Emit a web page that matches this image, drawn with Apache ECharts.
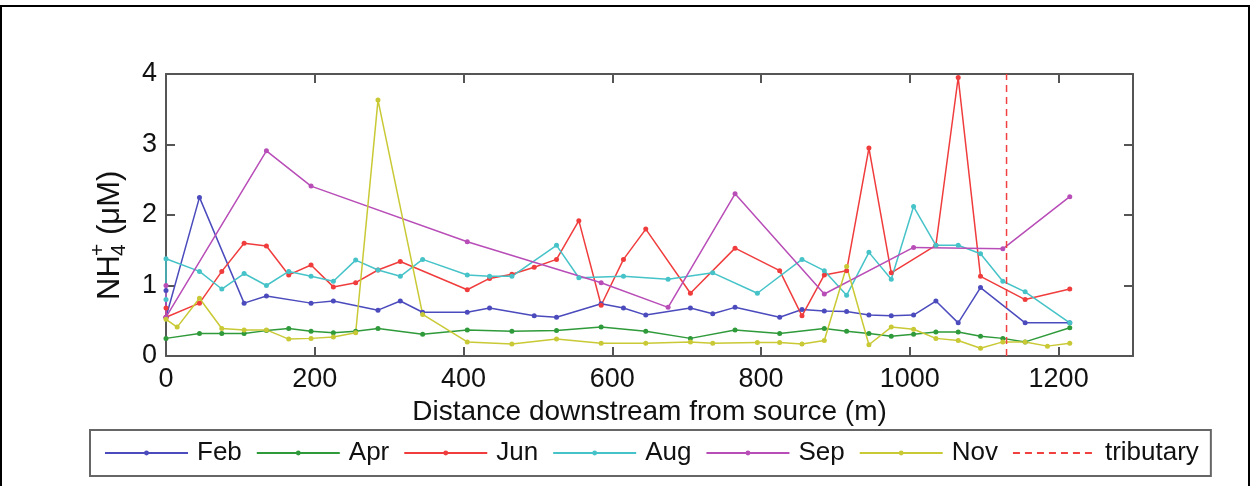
<!DOCTYPE html>
<html>
  <head>
    <meta charset="utf-8" />
    <title>NH4+ downstream</title>
    <script src="https://cdn.jsdelivr.net/npm/echarts@6/dist/echarts.min.js"></script>
    <style type="text/css">
      * {
        margin: 0px;
        padding: 0px;
      }
      body {
        background-color: #fff;
      }
    </style>
  </head>
  <body>
    <div id="main" style="width: 1252px; height: 486px"></div>
  </body>
</html>
<script>
  // distance (m) and NH4+ (uM) for each month
  const febX = [0, 0, 45, 105, 135, 195, 225, 285, 315, 345, 405, 435, 495, 525, 585, 615, 645, 705, 735, 765, 825, 855, 885, 915, 945, 975, 1005, 1035, 1065, 1095, 1155, 1215];
  const febY = [0.93, 0.55, 2.25, 0.75, 0.85, 0.75, 0.78, 0.65, 0.78, 0.62, 0.62, 0.68, 0.57, 0.55, 0.74, 0.68, 0.58, 0.68, 0.6, 0.69, 0.55, 0.66, 0.64, 0.63, 0.58, 0.57, 0.58, 0.78, 0.47, 0.97, 0.47, 0.47];

  const aprX = [0, 45, 75, 105, 135, 165, 195, 225, 255, 285, 345, 405, 465, 525, 585, 645, 705, 765, 825, 885, 915, 945, 975, 1005, 1035, 1065, 1095, 1125, 1155, 1215];
  const aprY = [0.25, 0.32, 0.32, 0.32, 0.36, 0.39, 0.35, 0.33, 0.35, 0.39, 0.31, 0.37, 0.35, 0.36, 0.41, 0.35, 0.25, 0.37, 0.32, 0.39, 0.35, 0.32, 0.28, 0.31, 0.34, 0.34, 0.28, 0.25, 0.2, 0.4];

  const junX = [0, 0, 45, 75, 105, 135, 165, 195, 225, 255, 285, 315, 405, 435, 465, 495, 525, 555, 585, 615, 645, 705, 765, 825, 855, 885, 915, 945, 975, 1035, 1065, 1095, 1155, 1215];
  const junY = [0.68, 0.55, 0.75, 1.2, 1.6, 1.56, 1.15, 1.29, 0.98, 1.04, 1.22, 1.34, 0.94, 1.1, 1.16, 1.26, 1.37, 1.92, 0.72, 1.37, 1.8, 0.89, 1.53, 1.21, 0.57, 1.15, 1.21, 2.95, 1.18, 1.57, 3.95, 1.13, 0.8, 0.95];

  const augX = [0, 0, 45, 75, 105, 135, 165, 195, 225, 255, 285, 315, 345, 405, 435, 465, 525, 555, 615, 675, 735, 795, 855, 885, 915, 945, 975, 1005, 1035, 1065, 1095, 1125, 1155, 1215];
  const augY = [0.8, 1.38, 1.2, 0.95, 1.17, 1.0, 1.2, 1.13, 1.06, 1.36, 1.22, 1.13, 1.37, 1.15, 1.13, 1.13, 1.57, 1.11, 1.13, 1.09, 1.18, 0.89, 1.37, 1.21, 0.86, 1.47, 1.09, 2.12, 1.57, 1.57, 1.45, 1.06, 0.91, 0.47];

  const sepX = [0, 0, 135, 195, 405, 585, 675, 765, 885, 1005, 1125, 1215];
  const sepY = [1.0, 0.55, 2.91, 2.41, 1.62, 1.04, 0.69, 2.3, 0.88, 1.54, 1.52, 2.26];

  const novX = [0, 15, 45, 75, 105, 135, 165, 195, 225, 255, 285, 345, 405, 465, 525, 585, 645, 705, 735, 795, 825, 855, 885, 915, 945, 975, 1005, 1035, 1065, 1095, 1125, 1155, 1185, 1215];
  const novY = [0.52, 0.41, 0.82, 0.39, 0.37, 0.37, 0.24, 0.25, 0.27, 0.33, 3.63, 0.59, 0.2, 0.17, 0.24, 0.18, 0.18, 0.2, 0.18, 0.19, 0.19, 0.17, 0.22, 1.27, 0.16, 0.41, 0.38, 0.25, 0.22, 0.11, 0.2, 0.2, 0.14, 0.18];

  const tributaryX = 1130;
  const yRange = [0, 4];
  const xTicks = [0, 200, 400, 600, 800, 1000, 1200];

  const months = ["Feb", "Apr", "Jun", "Aug", "Sep", "Nov"];
  const colors = ["#4b4bbd", "#2f9a3a", "#f03c3c", "#45c3c8", "#b84db8", "#c9c935"];
  const allX = [febX, aprX, junX, augX, sepX, novX];
  const allY = [febY, aprY, junY, augY, sepY, novY];

  const font = "Liberation Sans, Arial, sans-serif";

  let myChart = echarts.init(document.getElementById("main"));

  let series = [];
  for (let i = 0; i < months.length; i++) {
    let pts = [];
    for (let j = 0; j < allX[i].length; j++) {
      pts.push([allX[i][j], allY[i][j]]);
    }
    series.push({
      name: months[i],
      type: "line",
      data: pts,
      symbol: "circle",
      symbolSize: 5,
      color: colors[i],
      lineStyle: { width: 1.5, color: colors[i] },
      itemStyle: { color: colors[i] },
      animation: false,
    });
  }
  // tributary dashed line
  series.push({
    name: "tributary",
    type: "line",
    data: [
      [tributaryX, yRange[0]],
      [tributaryX, yRange[1]],
    ],
    symbol: "none",
    color: "#f04040",
    lineStyle: { width: 1.5, type: [7, 5], color: "#f04040" },
    animation: false,
  });

  const axisCommon = {
    axisLine: { show: true, onZero: false, lineStyle: { color: "#555", width: 2 } },
    axisTick: { show: true, inside: true, length: 9, lineStyle: { color: "#555", width: 2 } },
    splitLine: { show: false },
  };

  let legendData = months.map(function (m) {
    return { name: m };
  });
  legendData.push({ name: "tributary", itemStyle: { opacity: 0 } });

  let option = {
    backgroundColor: "#fff",
    animation: false,
    grid: { left: 166, top: 74, width: 967, height: 282 },
    xAxis: [
      Object.assign({}, axisCommon, {
        type: "value",
        min: 0,
        max: 1300,
        interval: 200,
        position: "bottom",
        name: "Distance downstream from source (m)",
        nameLocation: "middle",
        nameGap: 38,
        nameTextStyle: { fontFamily: font, fontSize: 28, color: "#111" },
        axisLabel: {
          margin: 10,
          fontFamily: font,
          fontSize: 27,
          color: "#111",
          formatter: function (v) {
            return xTicks.indexOf(v) >= 0 ? String(v) : "";
          },
        },
      }),
      Object.assign({}, axisCommon, {
        type: "value",
        min: 0,
        max: 1300,
        interval: 200,
        position: "top",
        axisLabel: { show: false },
      }),
    ],
    yAxis: [
      Object.assign({}, axisCommon, {
        type: "value",
        min: yRange[0],
        max: yRange[1],
        interval: 1,
        position: "left",
        axisLabel: { margin: 9, fontFamily: font, fontSize: 27, color: "#111" },
      }),
      Object.assign({}, axisCommon, {
        type: "value",
        min: yRange[0],
        max: yRange[1],
        interval: 1,
        position: "right",
        axisLabel: { show: false },
      }),
    ],
    legend: {
      data: legendData,
      left: 90,
      top: 430,
      orient: "horizontal",
      itemWidth: 83,
      itemHeight: 6,
      itemGap: 14,
      padding: [8, 12, 8, 14],
      borderColor: "#666",
      borderWidth: 2,
      textStyle: {
        fontFamily: font,
        fontSize: 26,
        color: "#111",
        lineHeight: 30,
        padding: [0, 0, 0, 4],
      },
    },
    graphic: [
      // outer frame of the figure
      {
        type: "rect",
        shape: { x: 1, y: 6, width: 1248, height: 500 },
        style: { fill: "none", stroke: "#000", lineWidth: 2 },
        silent: true,
      },
      // y axis title NH4+ (uM)
      {
        type: "group",
        x: 110,
        y: 300,
        rotation: Math.PI / 2,
        children: [
          { type: "text", x: 0, y: 0, style: { text: "NH", font: "31px " + font, fill: "#111", textAlign: "left", textVerticalAlign: "middle" } },
          { type: "text", x: 44, y: 9, style: { text: "4", font: "21px " + font, fill: "#111", textAlign: "left", textVerticalAlign: "middle" } },
          { type: "text", x: 44, y: -12, style: { text: "+", font: "21px " + font, fill: "#111", textAlign: "left", textVerticalAlign: "middle" } },
          { type: "text", x: 65, y: 0, style: { text: "(μM)", font: "31px " + font, fill: "#111", textAlign: "left", textVerticalAlign: "middle" } },
        ],
      },
    ],
    series: series,
  };

  myChart.setOption(option);
</script>
